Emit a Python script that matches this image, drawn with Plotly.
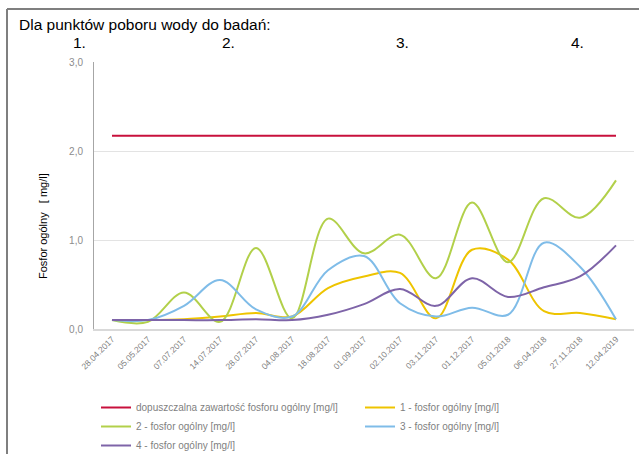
import plotly.graph_objects as go

categories = ["28.04.2017", "05.05.2017", "07.07.2017", "14.07.2017", "28.07.2017",
              "04.08.2017", "18.08.2017", "01.09.2017", "02.10.2017", "03.11.2017",
              "01.12.2017", "05.01.2018", "06.04.2018", "27.11.2018", "12.04.2019"]

limit_value = 2.17
p1 = [0.10, 0.10, 0.11, 0.14, 0.18, 0.14, 0.46, 0.59, 0.63, 0.12, 0.89, 0.78, 0.20, 0.18, 0.11]
p2 = [0.10, 0.08, 0.41, 0.08, 0.91, 0.12, 1.24, 0.85, 1.06, 0.57, 1.42, 0.75, 1.47, 1.25, 1.67]
p3 = [0.10, 0.10, 0.26, 0.55, 0.22, 0.14, 0.66, 0.82, 0.29, 0.14, 0.24, 0.16, 0.97, 0.70, 0.11]
p4 = [0.10, 0.10, 0.10, 0.10, 0.11, 0.10, 0.16, 0.28, 0.45, 0.26, 0.57, 0.36, 0.47, 0.59, 0.94]

names = ["dopuszczalna zawartość fosforu ogólny [mg/l]",
         "1 - fosfor ogólny [mg/l]",
         "2 - fosfor ogólny [mg/l]",
         "3 - fosfor ogólny [mg/l]",
         "4 - fosfor ogólny [mg/l]"]
colors = ["#C8103C", "#EEC400", "#B2D04A", "#7FBCE8", "#7E64A8"]
point_labels = ["1.", "2.", "3.", "4."]

W, H = 639, 454
L, R, T, B = 94, 634, 62, 329  # plot area in px


def px(x):
    return (x - L) / (R - L)


def py(y):
    return (B - y) / (B - T)


fig = go.Figure()
series = [[limit_value] * len(categories), p1, p2, p3, p4]
for i, (n, s, c) in enumerate(zip(names, series, colors)):
    fig.add_trace(go.Scatter(
        x=categories, y=s, name=n, mode="lines",
        line=dict(color=c, width=2, shape="linear" if i == 0 else "spline", smoothing=1.0),
    ))

font_fam = "Liberation Sans, Arial, sans-serif"

annotations = [
    dict(text="Dla punktów poboru wody do badań:", x=px(17), y=py(24), xref="paper", yref="paper",
         xanchor="left", yanchor="middle", showarrow=False, font=dict(size=15.5, color="#000000")),
    dict(text="Fosfor ogólny\u00a0\u00a0\u00a0[ mg/l]", x=px(43), y=py(226), xref="paper", yref="paper",
         xanchor="center", yanchor="middle", textangle=-90, showarrow=False,
         font=dict(size=11, color="#000000")),
]
for lbl, xp in zip(point_labels, [79, 228, 402, 577]):
    annotations.append(dict(text=lbl, x=px(xp), y=py(42), xref="paper", yref="paper",
                            xanchor="center", yanchor="middle", showarrow=False,
                            font=dict(size=15.5, color="#000000")))

shapes = [
    dict(type="line", xref="paper", yref="paper", x0=px(7), x1=px(639), y0=py(9), y1=py(9),
         line=dict(color="#7f7f7f", width=2)),
    dict(type="line", xref="paper", yref="paper", x0=px(7), x1=px(7), y0=py(9), y1=py(454),
         line=dict(color="#7f7f7f", width=2)),
]

fig.update_layout(
    width=W, height=H,
    margin=dict(l=L, r=W - R, t=T, b=H - B, pad=0, autoexpand=False),
    paper_bgcolor="white", plot_bgcolor="white",
    separators=", ",
    font=dict(family=font_fam, color="#7f7f7f", size=10),
    showlegend=True,
    legend=dict(orientation="h", xref="container", yref="container",
                x=96 / W, y=1 - 393 / H, xanchor="left", yanchor="top",
                entrywidth=219, entrywidthmode="pixels", traceorder="normal",
                font=dict(size=10, color="#7f7f7f"), itemwidth=30, tracegroupgap=0),
    annotations=annotations,
    shapes=shapes,
    xaxis=dict(type="category", range=[-0.5, len(categories) - 0.5], tickangle=-45,
               tickfont=dict(size=8.5, color="#7f7f7f"), showgrid=False, automargin=False,
               showline=True, linecolor="#d9d9d9", linewidth=2, ticks="", zeroline=False),
    yaxis=dict(range=[0, 3], tickvals=[0, 1, 2, 3], tickformat=".1f", automargin=False,
               tickfont=dict(size=10, color="#8c8c8c"), showgrid=True, gridcolor="#e3e3e3",
               gridwidth=1, showline=True, linecolor="#a6a6a6", linewidth=1, zeroline=False,
               ticks="", ticklabelstandoff=8),
)

fig.write_html("out.html", config={"displayModeBar": False},
               post_script="document.body.style.margin='0';document.body.style.overflow='hidden';")
